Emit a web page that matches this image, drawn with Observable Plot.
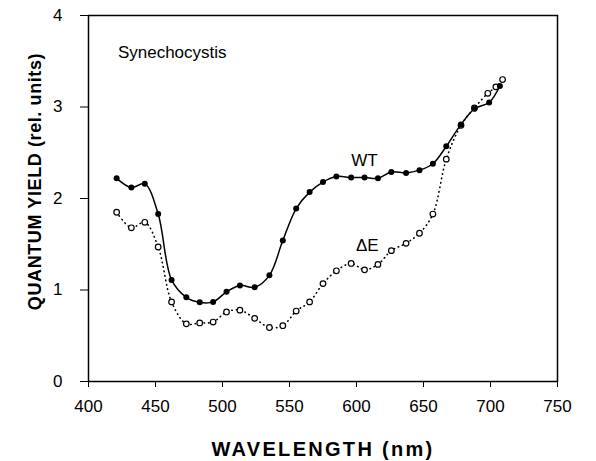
<!DOCTYPE html>
<html>
<head>
<meta charset="utf-8">
<script src="https://cdn.jsdelivr.net/npm/d3@7"></script>
<script src="https://cdn.jsdelivr.net/npm/@observablehq/plot@0.6"></script>
<style>
  html, body { margin: 0; padding: 0; background: #fff; }
  #chart svg { display: block; }
</style>
</head>
<body>
<div id="chart"></div>
<script>
// Data
const wtWavelength = [421,432,442,452,462,473,483,493,503,513,524,535,545,555,565,575,585,596,606,616,626,637,647,657,667,678,688,699,707];
const wtYield      = [2.22,2.12,2.16,1.83,1.11,0.92,0.865,0.87,0.98,1.05,1.03,1.16,1.54,1.89,2.07,2.18,2.24,2.23,2.23,2.22,2.29,2.28,2.31,2.38,2.57,2.81,2.98,3.05,3.23];
const deWavelength = [421,432,442,452,462,473,483,493,503,513,524,535,545,555,565,575,585,596,606,616,626,637,647,657,667,678,688,698,704,709];
const deYield      = [1.85,1.68,1.74,1.47,0.87,0.63,0.64,0.65,0.76,0.78,0.69,0.59,0.61,0.77,0.87,1.07,1.21,1.29,1.22,1.28,1.43,1.51,1.62,1.83,2.43,2.80,2.99,3.15,3.22,3.30];
const xTicks = [400,450,500,550,600,650,700,750];
const yTicks = [0,1,2,3,4];
const xTitle = "WAVELENGTH (nm)";
const yTitle = "QUANTUM YIELD (rel. units)";
const labelText = ["Synechocystis", "WT", "ΔE"];
const labelX = [462.5, 606, 608];
const labelY = [3.6, 2.42, 1.49];

const wt = wtWavelength.map((w, i) => ({w, v: wtYield[i]}));
const de = deWavelength.map((w, i) => ({w, v: deYield[i]}));
const labels = labelText.map((t, i) => ({t, x: labelX[i], y: labelY[i]}));

const font = "'Liberation Sans', Arial, Helvetica, sans-serif";

const chart = Plot.plot({
  width: 596,
  height: 461,
  marginLeft: 88,
  marginRight: 39,
  marginTop: 15,
  marginBottom: 80,
  style: {fontFamily: font, fontSize: "17px", color: "#000", background: "#fff"},
  x: {domain: [400, 750], ticks: xTicks, tickSize: 6, tickPadding: 12, label: null, tickFormat: d3.format("d")},
  y: {domain: [0, 4], ticks: yTicks, tickSize: 8, tickPadding: 18, label: null, tickFormat: d3.format("d")},
  marks: [
    Plot.frame({stroke: "#000", strokeWidth: 1.5}),
    Plot.line(de, {x: "w", y: "v", curve: "catmull-rom", stroke: "#000", strokeWidth: 1.6, strokeDasharray: "0.5,4", strokeLinecap: "round"}),
    Plot.line(wt, {x: "w", y: "v", curve: "catmull-rom", stroke: "#000", strokeWidth: 1.5}),
    Plot.dot(de, {x: "w", y: "v", r: 2.8, stroke: "#000", strokeWidth: 1.2, fill: "#fff"}),
    Plot.dot(wt, {x: "w", y: "v", r: 3, fill: "#000", stroke: "none"}),
    Plot.text(labels, {x: "x", y: "y", text: "t", textAnchor: "middle", fontSize: 17, fill: "#000"}),
    Plot.text([xTitle], {frameAnchor: "bottom", textAnchor: "middle", lineAnchor: "middle", dy: 68, fontSize: 20, fontWeight: "bold", fill: "#000"}),
    Plot.text([yTitle], {frameAnchor: "left", textAnchor: "middle", lineAnchor: "middle", rotate: -90, dx: -53, dy: -17, fontSize: 18, fontWeight: "bold", fill: "#000"})
  ]
});
// letter spacing for the axis titles, as in the reference
d3.select(chart).selectAll("text").each(function() {
  const t = this.textContent;
  if (t === xTitle) this.setAttribute("letter-spacing", "2.3px");
  if (t === yTitle) this.setAttribute("letter-spacing", "0.6px");
});
document.getElementById("chart").appendChild(chart);
</script>
</body>
</html>
